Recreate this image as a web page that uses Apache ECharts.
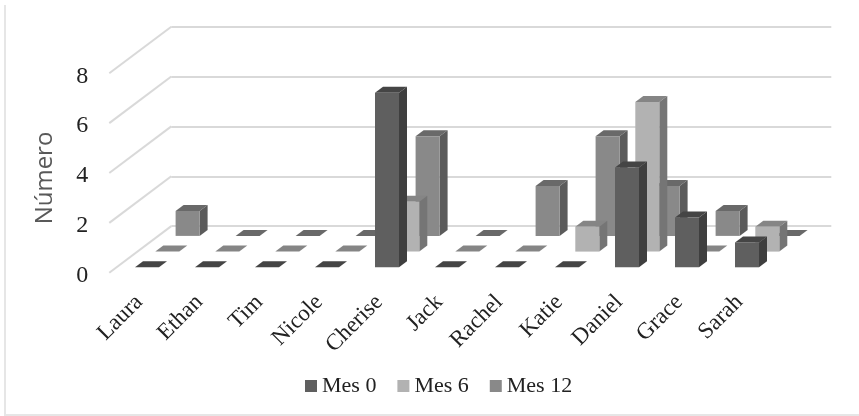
<!DOCTYPE html>
<html lang="es">
<head>
    <meta charset="UTF-8">
    <title>Número por mes</title>
    <script src="https://cdn.jsdelivr.net/npm/echarts@6/dist/echarts.min.js"></script>
    <style>
        body {
            margin: 0;
            background: #fff;
        }

        #root {
            width: 859px;
            height: 416px;
        }
    </style>
</head>
<body>
    <div id="root"></div>
    <script>
        var categories = ['Laura', 'Ethan', 'Tim', 'Nicole', 'Cherise', 'Jack', 'Rachel', 'Katie', 'Daniel', 'Grace', 'Sarah'];
        var mes0 = [0, 0, 0, 0, 7, 0, 0, 0, 4, 2, 1];
        var mes6 = [0, 0, 0, 0, 2, 0, 0, 1, 6, 0, 1];
        var mes12 = [1, 0, 0, 0, 4, 0, 2, 4, 2, 1, 0];
        var yTicks = [0, 2, 4, 6, 8];

        var labelFont = '"Liberation Serif", serif';
        var gridLine = '#d9d9d9';

        // depth of the whole floor, going back
        var wallDx = 62, wallDy = -46.6;
        // one bar's own depth
        var barDx = 8, barDy = -6, barW = 24;

        function bar3d(row, front, side, top) {
            return function (params, api) {
                var i = api.value(0);
                var p0 = api.coord([i, 0]);
                var p1 = api.coord([i, api.value(1)]);
                var x = p0[0] + 7.7 - barW / 2 + row * 20.3;
                var y0 = p0[1] - 5.4 - row * 15.7;
                var y1 = p1[1] - 5.4 - row * 15.7;
                var h = y0 - y1;
                var kids = [{
                    type: 'polygon',
                    shape: { points: [[x, y1], [x + barDx, y1 + barDy], [x + barW + barDx, y1 + barDy], [x + barW, y1]] },
                    style: { fill: top }
                }];
                if (h > 0) {
                    kids.push({
                        type: 'polygon',
                        shape: { points: [[x + barW, y1], [x + barW + barDx, y1 + barDy], [x + barW + barDx, y0 + barDy], [x + barW, y0]] },
                        style: { fill: side }
                    });
                    kids.push({
                        type: 'rect',
                        shape: { x: x, y: y1, width: barW, height: h },
                        style: { fill: front }
                    });
                }
                return { type: 'group', children: kids };
            };
        }

        function pairs(values) {
            return values.map(function (v, i) { return [i, v]; });
        }

        var chart = echarts.init(document.getElementById('root'), null, { renderer: 'canvas' });

        chart.setOption({
            animation: false,
            backgroundColor: '#fff',
            graphic: [{
                // chart frame, only left and bottom show in the picture
                type: 'polyline',
                shape: { points: [[5, 5], [5, 415], [859, 415]] },
                style: { fill: 'none', stroke: '#e6e6e6', lineWidth: 2 },
                silent: true,
                z: -10
            }],
            legend: {
                data: ['Mes 0', 'Mes 6', 'Mes 12'],
                left: 300,
                top: 370,
                icon: 'rect',
                itemWidth: 12,
                itemHeight: 12,
                itemGap: 21,
                textStyle: { fontFamily: labelFont, fontSize: 22, color: '#222' }
            },
            grid: [{
                left: 109.3,
                top: 73.3,
                width: 660,
                height: 199.4
            }, {
                // back wall
                left: 171.3,
                top: 26.7,
                width: 660,
                height: 199.4
            }],
            xAxis: [{
                type: 'category',
                data: categories,
                gridIndex: 0,
                axisLine: { show: false },
                axisTick: { show: false },
                axisLabel: {
                    rotate: 45,
                    interval: 0,
                    margin: 26,
                    fontFamily: labelFont,
                    fontSize: 23,
                    color: '#222'
                }
            }, {
                type: 'category',
                data: categories,
                gridIndex: 1,
                show: false
            }],
            yAxis: [{
                type: 'value',
                min: 0,
                max: 8,
                interval: 2,
                gridIndex: 0,
                name: 'Número',
                nameLocation: 'middle',
                nameGap: 52,
                nameTextStyle: { fontFamily: '"Open Sans", sans-serif', fontSize: 24, color: '#595959', padding: [0, 10, 0, 0] },
                axisLine: { show: false },
                axisTick: { show: false },
                splitLine: { show: false },
                axisLabel: {
                    margin: 21,
                    formatter: '{n|{value}}',
                    rich: {
                        n: {
                            padding: [6, 0, 0, 0],
                            fontFamily: labelFont,
                            fontSize: 24,
                            color: '#222'
                        }
                    }
                }
            }, {
                type: 'value',
                min: 0,
                max: 8,
                interval: 2,
                gridIndex: 1,
                axisLine: { show: false },
                axisTick: { show: false },
                axisLabel: { show: false },
                splitLine: { show: true, lineStyle: { color: gridLine, width: 2 } }
            }],
            series: [{
                // side wall
                type: 'custom',
                xAxisIndex: 0,
                yAxisIndex: 0,
                silent: true,
                z: 1,
                encode: { x: 0, y: 1 },
                data: yTicks.map(function (t) { return [0, t]; }),
                renderItem: function (params, api) {
                    var p = api.coord([0, api.value(1)]);
                    var x0 = params.coordSys.x;
                    return {
                        type: 'line',
                        shape: { x1: x0, y1: p[1], x2: x0 + wallDx, y2: p[1] + wallDy },
                        style: { stroke: gridLine, lineWidth: 2 }
                    };
                }
            }, {
                name: 'Mes 12',
                type: 'custom',
                xAxisIndex: 0,
                yAxisIndex: 0,
                z: 3,
                itemStyle: { color: '#898989' },
                encode: { x: 0, y: 1 },
                data: pairs(mes12),
                renderItem: bar3d(2, '#898989', '#5b5b5b', '#696969')
            }, {
                name: 'Mes 6',
                type: 'custom',
                xAxisIndex: 0,
                yAxisIndex: 0,
                z: 4,
                itemStyle: { color: '#b2b2b2' },
                encode: { x: 0, y: 1 },
                data: pairs(mes6),
                renderItem: bar3d(1, '#b2b2b2', '#757575', '#858585')
            }, {
                name: 'Mes 0',
                type: 'custom',
                xAxisIndex: 0,
                yAxisIndex: 0,
                z: 5,
                itemStyle: { color: '#5f5f5f' },
                encode: { x: 0, y: 1 },
                data: pairs(mes0),
                renderItem: bar3d(0, '#5f5f5f', '#3f3f3f', '#454545')
            }]
        });
    </script>
</body>
</html>
